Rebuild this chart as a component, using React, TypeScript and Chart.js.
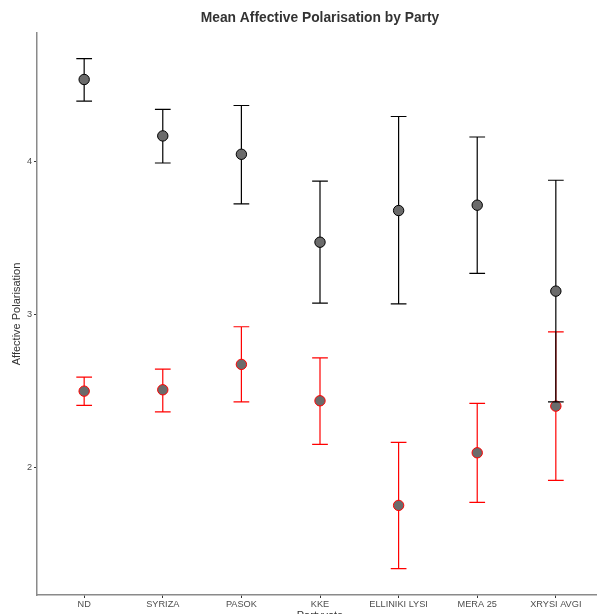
import React, { useEffect, useRef } from "react";
import { Chart, registerables } from "chart.js";

Chart.register(...registerables);

const parties = ["ND", "SYRIZA", "PASOK", "KKE", "ELLINIKI LYSI", "MERA 25", "XRYSI AVGI"];

// Black series
const blackMean = [4.539, 4.17, 4.05, 3.475, 3.682, 3.717, 3.155];
const blackLow = [4.397, 3.993, 3.725, 3.076, 3.072, 3.271, 2.431];
const blackHigh = [4.676, 4.344, 4.369, 3.874, 4.297, 4.163, 3.88];

// Red series
const redMean = [2.501, 2.51, 2.676, 2.438, 1.754, 2.098, 2.403];
const redLow = [2.408, 2.366, 2.431, 2.153, 1.34, 1.774, 1.918];
const redHigh = [2.593, 2.645, 2.922, 2.719, 2.166, 2.421, 2.889];

const yTicks = [2, 3, 4];
const titleText = "Mean Affective Polarisation by Party";
const xTitle = "Partyvote";
const yTitle = "Affective Polarisation";

const W = 610;
const H = 625;

export default function App() {
  const ref = useRef<HTMLCanvasElement | null>(null);

  useEffect(() => {
    if (!ref.current) return;
    const errs = [
      { low: blackLow, high: blackHigh, color: "#000000" },
      { low: redLow, high: redHigh, color: "#ff0000" },
    ];
    const errorBarPlugin = {
      id: "errbars",
      beforeDatasetDraw(chart: any, args: any) {
        const e = errs[args.index];
        if (!e) return;
        const ctx = chart.ctx;
        const xs = chart.scales.x;
        const ys = chart.scales.y;
        ctx.save();
        ctx.strokeStyle = e.color;
        ctx.lineWidth = 1.2;
        for (let i = 0; i < parties.length; i++) {
          const x = xs.getPixelForValue(i);
          const y1 = ys.getPixelForValue(e.low[i]);
          const y2 = ys.getPixelForValue(e.high[i]);
          const hw = xs.getPixelForValue(0.1) - xs.getPixelForValue(0);
          ctx.beginPath();
          ctx.moveTo(x, y1);
          ctx.lineTo(x, y2);
          ctx.moveTo(x - hw, y1);
          ctx.lineTo(x + hw, y1);
          ctx.moveTo(x - hw, y2);
          ctx.lineTo(x + hw, y2);
          ctx.stroke();
        }
        ctx.restore();
      },
      afterDraw(chart: any) {
        const ctx = chart.ctx;
        const a = chart.chartArea;
        const cx = (a.left + a.right) / 2;
        const cy = (a.top + a.bottom) / 2;
        ctx.save();
        ctx.fillStyle = "#333333";
        ctx.textAlign = "center";
        ctx.textBaseline = "middle";
        ctx.font = "bold 13.8px 'Liberation Sans', Arial, sans-serif";
        ctx.fillText(titleText, cx, 18);
        ctx.font = "11px 'Liberation Sans', Arial, sans-serif";
        ctx.fillText(xTitle, cx, a.bottom + 21);
        ctx.translate(17, cy);
        ctx.rotate(-Math.PI / 2);
        ctx.fillText(yTitle, 0, 0);
        ctx.restore();
      },
    };

    const chart = new Chart(ref.current, {
      type: "scatter",
      data: {
        datasets: [
          {
            data: blackMean.map((v, i) => ({ x: i, y: v })),
            pointRadius: 5.2,
            pointBackgroundColor: "#6b6b6b",
            pointBorderColor: "#000000",
            pointBorderWidth: 1,
            showLine: false,
          },
          {
            data: redMean.map((v, i) => ({ x: i, y: v })),
            pointRadius: 5.2,
            pointBackgroundColor: "#6b6b6b",
            pointBorderColor: "#ff0000",
            pointBorderWidth: 1,
            showLine: false,
          },
        ],
      },
      options: {
        responsive: false,
        animation: false,
        layout: { padding: { left: 0, right: W - 603, top: 33, bottom: H - 595 - 20 } },
        plugins: {
          legend: { display: false },
          title: { display: false },
          tooltip: { enabled: false },
        },
        scales: {
          x: {
            type: "linear",
            min: -0.6,
            max: 6.6,
            afterBuildTicks: (s: any) => {
              s.ticks = parties.map((_, i) => ({ value: i }));
            },
            afterFit: (s: any) => {
              s.height = 20;
            },
            ticks: {
              autoSkip: false,
              maxRotation: 0,
              padding: 1,
              color: "#4d4d4d",
              font: { size: 9.2, family: "'Liberation Sans', Arial, sans-serif" },
              callback: (v: any) => parties[v] ?? "",
            },
            grid: { drawOnChartArea: false, drawTicks: true, tickLength: 3, color: "#333333" },
            border: { display: true, color: "#8a8a8a", width: 1.5 },
          },
          y: {
            type: "linear",
            min: 1.168,
            max: 4.843,
            afterBuildTicks: (s: any) => {
              s.ticks = yTicks.map((v) => ({ value: v }));
            },
            afterFit: (s: any) => {
              s.width = 37;
            },
            ticks: {
              padding: 2,
              color: "#4d4d4d",
              font: { size: 9.2, family: "'Liberation Sans', Arial, sans-serif" },
            },
            grid: { drawOnChartArea: false, drawTicks: true, tickLength: 3, color: "#333333" },
            border: { display: true, color: "#8a8a8a", width: 1.5 },
          },
        },
      },
      plugins: [errorBarPlugin],
    } as any);
    return () => chart.destroy();
  }, []);

  return (
    <div
      style={{
        position: "fixed",
        left: 0,
        top: 0,
        width: 597,
        height: 614,
        overflow: "hidden",
        background: "#ffffff",
      }}
    >
      <canvas ref={ref} width={W} height={H} style={{ display: "block", width: W, height: H }} />
    </div>
  );
}
